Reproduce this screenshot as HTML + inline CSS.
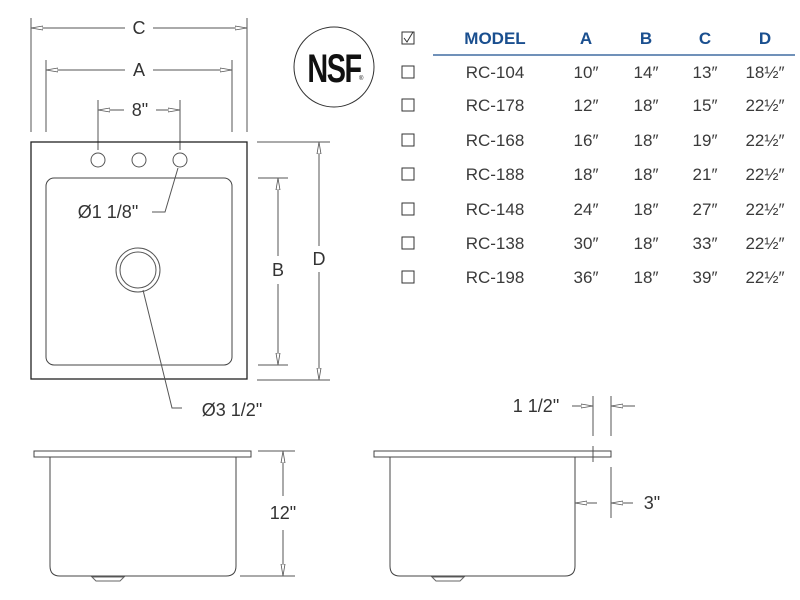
<!DOCTYPE html>
<html><head><meta charset="utf-8"><style>
html,body{margin:0;padding:0;background:#fff}
svg{display:block}
text{font-family:"Liberation Sans",sans-serif}
.t{font-size:17px;fill:#3a3a3a;text-anchor:middle}
.h{font-size:17px;fill:#1a4f8f;font-weight:bold;text-anchor:middle}
.d{font-size:18px;fill:#333;text-anchor:middle}
</style></head><body>
<svg width="800" height="600" viewBox="0 0 800 600" xmlns="http://www.w3.org/2000/svg">
<defs>
<marker id="ar" viewBox="0 0 12 6" refX="12" refY="3" markerWidth="12" markerHeight="6" orient="auto" markerUnits="userSpaceOnUse">
<path d="M0,1 L12,3 L0,5 Z" fill="#fff" stroke="#555" stroke-width="0.8"/></marker>
</defs>
<g stroke="#555" stroke-width="1" fill="none">
<line x1="31" y1="18" x2="31" y2="132"/><line x1="247" y1="18" x2="247" y2="132"/>
<line x1="125" y1="28" x2="31" y2="28" marker-end="url(#ar)"/>
<line x1="153" y1="28" x2="247" y2="28" marker-end="url(#ar)"/>
<line x1="46" y1="60" x2="46" y2="132"/><line x1="232" y1="60" x2="232" y2="132"/>
<line x1="125" y1="70" x2="46" y2="70" marker-end="url(#ar)"/>
<line x1="153" y1="70" x2="232" y2="70" marker-end="url(#ar)"/>
<line x1="98" y1="100" x2="98" y2="150"/><line x1="180" y1="100" x2="180" y2="150"/>
<line x1="124" y1="110" x2="98" y2="110" marker-end="url(#ar)"/>
<line x1="156" y1="110" x2="180" y2="110" marker-end="url(#ar)"/>
<rect x="31" y="142" width="216" height="237" stroke="#222" stroke-width="1.3"/>
<rect x="46" y="178" width="186" height="187" rx="8" stroke="#444"/>
<circle cx="98" cy="160" r="7"/><circle cx="139" cy="160" r="7"/><circle cx="180" cy="160" r="7"/>
<circle cx="138" cy="270" r="22"/><circle cx="138" cy="270" r="18"/>
<polyline points="152,212 165,212 178,168"/>
<polyline points="182,408 172,408 143,290"/>
<line x1="257" y1="142" x2="330" y2="142"/><line x1="257" y1="380" x2="330" y2="380"/>
<line x1="319" y1="246" x2="319" y2="142" marker-end="url(#ar)"/>
<line x1="319" y1="272" x2="319" y2="380" marker-end="url(#ar)"/>
<line x1="258" y1="178" x2="288" y2="178"/><line x1="258" y1="365" x2="288" y2="365"/>
<line x1="278" y1="256" x2="278" y2="178" marker-end="url(#ar)"/>
<line x1="278" y1="284" x2="278" y2="365" marker-end="url(#ar)"/>
<circle cx="334" cy="67" r="40" stroke="#333"/>
<rect x="34" y="451" width="217" height="6" stroke="#444"/>
<path d="M50,457 L50,566 Q50,576 60,576 L226,576 Q236,576 236,566 L236,457" stroke="#444"/>
<path d="M92,577 L124,577 L120,581 L96,581 Z" stroke="#666"/>
<line x1="258" y1="451" x2="295" y2="451"/><line x1="240" y1="576" x2="295" y2="576"/>
<line x1="283" y1="496" x2="283" y2="451" marker-end="url(#ar)"/>
<line x1="283" y1="530" x2="283" y2="576" marker-end="url(#ar)"/>
<rect x="374" y="451" width="237" height="6" stroke="#444"/>
<path d="M390,457 L390,566 Q390,576 400,576 L565,576 Q575,576 575,566 L575,457" stroke="#444"/>
<path d="M432,577 L464,577 L460,581 L436,581 Z" stroke="#666"/>
<line x1="593" y1="396" x2="593" y2="436"/><line x1="611" y1="396" x2="611" y2="436"/>
<line x1="593" y1="446" x2="593" y2="462"/><line x1="611" y1="467" x2="611" y2="518"/>
<line x1="572" y1="406" x2="593" y2="406" marker-end="url(#ar)"/>
<line x1="635" y1="406" x2="611" y2="406" marker-end="url(#ar)"/>
<line x1="597" y1="503" x2="575" y2="503" marker-end="url(#ar)"/>
<line x1="633" y1="503" x2="611" y2="503" marker-end="url(#ar)"/>
<line x1="433" y1="55" x2="795" y2="55" stroke="#1a4f8f" stroke-width="1.2"/>
</g>
<g>
<text class="d" x="139" y="34">C</text>
<text class="d" x="139" y="76">A</text>
<text class="d" x="140" y="116">8"</text>
<text class="d" x="108" y="218">Ø1 1/8"</text>
<text class="d" x="278" y="276">B</text>
<text class="d" x="319" y="265">D</text>
<text class="d" x="232" y="416">Ø3 1/2"</text>
<text class="d" x="536" y="412">1 1/2"</text>
<text class="d" x="283" y="519">12"</text>
<text class="d" x="652" y="509">3"</text>
<text x="334" y="82" text-anchor="middle" style="font-size:40px;font-weight:bold;fill:#111;letter-spacing:-2px" transform="translate(334 0) scale(0.72 1) translate(-334 0)">NSF</text>
<text x="359" y="80" style="font-size:6px;fill:#111">®</text>
</g>
<g stroke="#333" stroke-width="1" fill="none">
<rect x="402" y="32" width="12" height="12"/>
<rect x="402" y="66" width="12" height="12"/>
<rect x="402" y="99" width="12" height="12"/>
<rect x="402" y="134" width="12" height="12"/>
<rect x="402" y="168" width="12" height="12"/>
<rect x="402" y="203" width="12" height="12"/>
<rect x="402" y="237" width="12" height="12"/>
<rect x="402" y="271" width="12" height="12"/>
<path d="M404,38 L407,42 L413,32"/>
</g>
<text class="h" x="495" y="44">MODEL</text>
<text class="h" x="586" y="44">A</text>
<text class="h" x="646" y="44">B</text>
<text class="h" x="705" y="44">C</text>
<text class="h" x="765" y="44">D</text>
<g>
<text class="t" x="495" y="78">RC-104</text><text class="t" x="586" y="78">10″</text><text class="t" x="646" y="78">14″</text><text class="t" x="705" y="78">13″</text><text class="t" x="765" y="78">18½″</text>
<text class="t" x="495" y="111">RC-178</text><text class="t" x="586" y="111">12″</text><text class="t" x="646" y="111">18″</text><text class="t" x="705" y="111">15″</text><text class="t" x="765" y="111">22½″</text>
<text class="t" x="495" y="146">RC-168</text><text class="t" x="586" y="146">16″</text><text class="t" x="646" y="146">18″</text><text class="t" x="705" y="146">19″</text><text class="t" x="765" y="146">22½″</text>
<text class="t" x="495" y="180">RC-188</text><text class="t" x="586" y="180">18″</text><text class="t" x="646" y="180">18″</text><text class="t" x="705" y="180">21″</text><text class="t" x="765" y="180">22½″</text>
<text class="t" x="495" y="215">RC-148</text><text class="t" x="586" y="215">24″</text><text class="t" x="646" y="215">18″</text><text class="t" x="705" y="215">27″</text><text class="t" x="765" y="215">22½″</text>
<text class="t" x="495" y="249">RC-138</text><text class="t" x="586" y="249">30″</text><text class="t" x="646" y="249">18″</text><text class="t" x="705" y="249">33″</text><text class="t" x="765" y="249">22½″</text>
<text class="t" x="495" y="283">RC-198</text><text class="t" x="586" y="283">36″</text><text class="t" x="646" y="283">18″</text><text class="t" x="705" y="283">39″</text><text class="t" x="765" y="283">22½″</text>
</g>
</svg>
</body></html>
